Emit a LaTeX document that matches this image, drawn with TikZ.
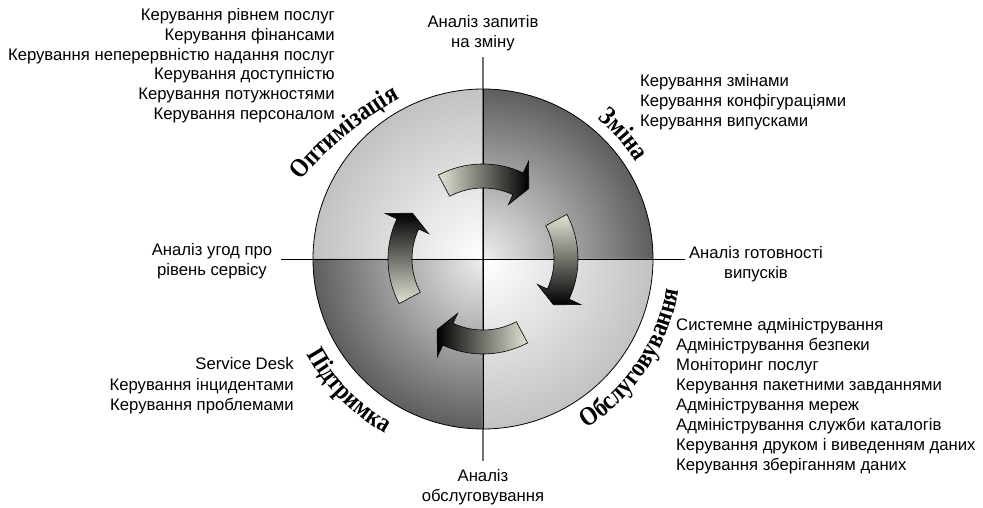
\documentclass[tikz,border=0pt]{standalone}
\usepackage{fontspec}
\setmainfont{Liberation Sans}
\newfontfamily\arcfont[FakeStretch=0.86]{Liberation Serif}
\usetikzlibrary{decorations.text}
\definecolor{qlight}{HTML}{C2C2C2}
\definecolor{qdark}{HTML}{5E5E5E}
\definecolor{qdarkin}{HTML}{EEEEEE}
\definecolor{arlight}{HTML}{E2E2D4}
\definecolor{armid}{HTML}{8A8A84}
\definecolor{vaxis}{HTML}{707070}
\begin{document}
\begin{tikzpicture}[x=1pt,y=1pt,
  lbl/.style={font=\fontsize{16.7}{20}\selectfont, inner sep=0pt},
  axisline/.style={draw=black, line width=0.8pt},
  cyc/.style={draw=black, line width=0.6pt, bottom color=arlight, middle color=armid, top color=black},
  arctext/.style={decorate, decoration={text along path, text align=center, text={|\arcfont\bfseries\fontsize{26.5}{27}\selectfont|#1}}}
]
\useasboundingbox (-483,-249) rectangle (500,259);
% quadrants
\begin{scope}
  \clip (0,0) -- (0,170) arc[start angle=90, end angle=180, radius=170] -- cycle;
  \shade[inner color=white, outer color=qlight] (0,0) circle (170);
\end{scope}
\begin{scope}
  \clip (0,0) -- (170,0) arc[start angle=0, end angle=90, radius=170] -- cycle;
  \shade[inner color=qdarkin, outer color=qdark] (0,0) circle (170);
\end{scope}
\begin{scope}
  \clip (0,0) -- (0,-170) arc[start angle=-90, end angle=0, radius=170] -- cycle;
  \shade[inner color=white, outer color=qlight] (0,0) circle (170);
\end{scope}
\begin{scope}
  \clip (0,0) -- (-170,0) arc[start angle=180, end angle=270, radius=170] -- cycle;
  \shade[inner color=qdarkin, outer color=qdark] (0,0) circle (170);
\end{scope}
\coordinate (hl) at (-202,0);
\coordinate (hr) at (202,0);
\coordinate (vt) at (0,202);
\coordinate (vb) at (0,-202);
\coordinate (ct) at (0,170);
\coordinate (cb) at (0,-170);
\draw[draw=vaxis, line width=1.3pt] (vt) -- (vb);
\draw[axisline] (ct) -- (cb);
\draw[axisline] (hl) -- (hr);
\draw[line width=0.8pt] (0,0) circle (170);
% cycle arrows
\foreach \c in {90,0,-90,180}{
  \shadedraw[cyc, shading angle=\c-180]
    ({\c+28}:95) arc[start angle=\c+28, end angle=\c-25, radius=95]
    -- ({\c-25}:108) -- ({\c-33}:84) -- ({\c-25}:60) -- ({\c-25}:71)
    arc[start angle=\c-25, end angle=\c+28, radius=71] -- cycle;
}
% arc titles
\path[shift={(87.2,-145.4)}, arctext={Оптимізація}] (155:350) arc[start angle=155, end angle=104.4, radius=350];
\path[arctext={Зміна}] (66.5:181) arc[start angle=66.5, end angle=16.5, radius=181];
\path[arctext={Обслуговування}] (-78.8:198) arc[start angle=-78.8, end angle=11.2, radius=198];
\path[arctext={Підтримка}] (189.5:200) arc[start angle=189.5, end angle=259.5, radius=200];
% labels top-left
\node[lbl, anchor=base east] (tl1) at (-148,238.5) {Керування рівнем послуг};
\node[lbl, anchor=base east] (tl2) at (-148,218.7) {Керування фінансами};
\node[lbl, anchor=base east] (tl3) at (-148,198.9) {Керування неперервністю надання послуг};
\node[lbl, anchor=base east] (tl4) at (-148,179.1) {Керування доступністю};
\node[lbl, anchor=base east] (tl5) at (-148,159.3) {Керування потужностями};
\node[lbl, anchor=base east] (tl6) at (-148,139.5) {Керування персоналом};
% top center
\node[lbl, anchor=base] (tc1) at (0,231.5) {Аналіз запитів};
\node[lbl, anchor=base] (tc2) at (0,211.5) {на зміну};
% top right
\node[lbl, anchor=base west] (tr1) at (157,172) {Керування змінами};
\node[lbl, anchor=base west] (tr2) at (157,152) {Керування конфігураціями};
\node[lbl, anchor=base west] (tr3) at (157,132) {Керування випусками};
% right
\node[lbl, anchor=base] (r1) at (273,0.5) {Аналіз готовності};
\node[lbl, anchor=base] (r2) at (273,-19.5) {випусків};
% left
\node[lbl, anchor=base] (l1) at (-271,3) {Аналіз угод про};
\node[lbl, anchor=base] (l2) at (-271,-16.8) {рівень сервісу};
% bottom left
\node[lbl, anchor=base east] (bl1) at (-189,-111) {Service Desk};
\node[lbl, anchor=base east] (bl2) at (-189,-131.5) {Керування інцидентами};
\node[lbl, anchor=base east] (bl3) at (-189,-151.5) {Керування проблемами};
% bottom right
\node[lbl, anchor=base west] (br1) at (193,-71.5) {Системне адміністрування};
\node[lbl, anchor=base west] (br2) at (193,-91.5) {Адміністрування безпеки};
\node[lbl, anchor=base west] (br3) at (193,-111.5) {Моніторинг послуг};
\node[lbl, anchor=base west] (br4) at (193,-131.5) {Керування пакетними завданнями};
\node[lbl, anchor=base west] (br5) at (193,-151.5) {Адміністрування мереж};
\node[lbl, anchor=base west] (br6) at (193,-171.5) {Адміністрування служби каталогів};
\node[lbl, anchor=base west] (br7) at (193,-191.5) {Керування друком і виведенням даних};
\node[lbl, anchor=base west] (br8) at (193,-211.5) {Керування зберіганням даних};
% bottom center
\node[lbl, anchor=base] (bc1) at (0,-222.5) {Аналіз};
\node[lbl, anchor=base] (bc2) at (0,-242.5) {обслуговування};
\end{tikzpicture}
\end{document}
